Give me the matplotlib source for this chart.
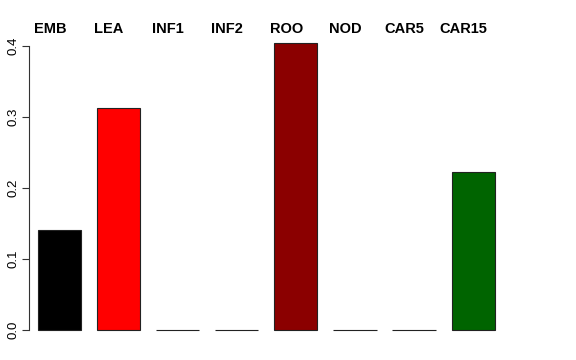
import matplotlib
matplotlib.use("Agg")
import matplotlib.pyplot as plt
import matplotlib.transforms as mtrans
import numpy as np

plt.rcParams["font.family"] = ["Liberation Sans", "DejaVu Sans"]

labels = ["EMB", "LEA", "INF1", "INF2", "ROO", "NOD", "CAR5", "CAR15"]
values = [0.141, 0.313, 0.0, 0.0, 0.404, 0.0, 0.0, 0.2225]
colors = ["black", "red", "white", "white", "#8B0000", "white", "white", "#006400"]

W, H = 576, 360
fig = plt.figure(figsize=(W / 100, H / 100), dpi=100)
# plot region in pixels: x 29..547, y (0 at 330)
ymax = 0.42
top_px = 330 - ymax * 710
ax = fig.add_axes([29 / W, 1 - 330 / H, (547 - 29) / W, (330 - top_px) / H])

x = np.arange(len(labels))
ax.bar(x, values, width=0.73, color=colors, edgecolor="#222222", linewidth=0.8, clip_on=False)
ax.set_xlim(-0.516, 8.25)
ax.set_ylim(0, ymax)

for s in ["top", "right", "bottom"]:
    ax.spines[s].set_visible(False)
ax.spines["left"].set_bounds(0, 0.4)
ax.spines["left"].set_color("#333333")
ax.set_xticks([])
ax.set_yticks([0, 0.1, 0.2, 0.3, 0.4])
ax.set_yticklabels(["0.0", "0.1", "0.2", "0.3", "0.4"], rotation=90, va="center", fontsize=9.5)
ax.tick_params(axis="y", length=5, width=0.8, pad=2, color="#333333")

# group names sit a little left of the bar centres
trans = mtrans.blended_transform_factory(ax.transData, fig.transFigure)
for xi, lab in zip(x, labels):
    ax.text(xi - 0.16, 1 - 29 / H, lab, transform=trans,
            ha="center", va="center", fontsize=10.5, fontweight="bold")

fig.savefig("out.png", dpi=100)
